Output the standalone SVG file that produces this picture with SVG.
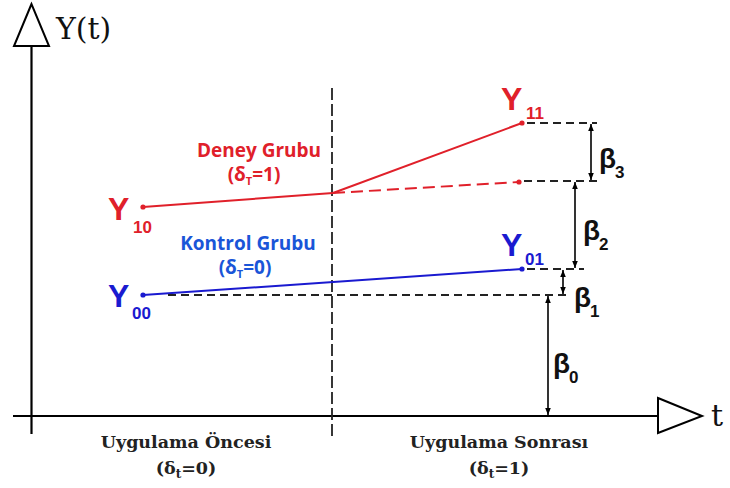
<svg xmlns="http://www.w3.org/2000/svg" width="730" height="488" viewBox="0 0 730 488">
<style>
.ax{stroke:#000;stroke-width:2.2;fill:none}
.tri{stroke:#000;stroke-width:2;fill:#fff}
.bd{stroke:#222;stroke-width:1.8;stroke-dasharray:8,5;fill:none}
.vd{stroke:#222;stroke-width:1.8;stroke-dasharray:12,4;fill:none}
.red{stroke:#e0202a;stroke-width:2;fill:none}
.redd{stroke:#e0202a;stroke-width:2;stroke-dasharray:12,6;fill:none}
.blue{stroke:#1a1ad0;stroke-width:2;fill:none}
.dim{stroke:#000;stroke-width:1.6;fill:none;marker-start:url(#ah);marker-end:url(#ah)}
.serif{font-family:"DejaVu Serif","Liberation Serif",serif}
.sb{font-family:"DejaVu Serif","Liberation Serif",serif;font-weight:bold;font-size:17.5px;fill:#222}
.ar{font-family:"Liberation Sans",Arial,sans-serif;font-weight:bold}
.lbl{font-family:"Open Sans","Liberation Sans",sans-serif;font-weight:bold;font-size:19px}
.beta{font-family:"Liberation Sans",Arial,sans-serif;font-weight:bold;font-size:28px;fill:#111}
.bsub{font-family:"Liberation Sans",Arial,sans-serif;font-weight:bold;font-size:17px;fill:#111}
</style>
<defs>
<marker id="ah" viewBox="0 0 10 10" refX="10" refY="5" markerWidth="7" markerHeight="7" orient="auto-start-reverse" markerUnits="userSpaceOnUse">
<path d="M0,1 L10,5 L0,9 Z" fill="#000"/>
</marker>
</defs>
<g id="axes">
<line class="ax" x1="31.5" y1="46" x2="31.5" y2="434"/>
<polygon class="tri" points="31.5,4 14,46 49,46"/>
<text class="serif" x="56" y="39" font-size="30" fill="#111">Y(t)</text>
<line class="ax" x1="13" y1="416" x2="658" y2="416"/>
<polygon class="tri" points="658,398 702,416 658,433"/>
<text class="serif" x="711" y="426" font-size="30" fill="#111">t</text>
</g>
<g id="connectors">
<line class="vd" x1="332" y1="88" x2="332" y2="436"/>
<line class="red" x1="143" y1="207" x2="333" y2="193"/>
<line class="red" x1="333" y1="193" x2="522" y2="123"/>
<line class="redd" x1="333" y1="193" x2="519" y2="182"/>
<line class="blue" x1="143" y1="295" x2="522" y2="269"/>
<line class="bd" x1="168" y1="295" x2="570" y2="295"/>
<line class="bd" x1="527" y1="123" x2="597" y2="123"/>
<line class="bd" x1="524" y1="181" x2="597" y2="181"/>
<line class="bd" x1="527" y1="269" x2="584" y2="269"/>
<line class="dim" x1="591" y1="124" x2="591" y2="180"/>
<line class="dim" x1="575" y1="182" x2="575" y2="268"/>
<line class="dim" x1="563" y1="270" x2="563" y2="294"/>
<line class="dim" x1="548" y1="296" x2="548" y2="415"/>
</g>
<g id="points">
<circle cx="143" cy="207" r="2.6" fill="#e0202a"/>
<circle cx="522" cy="123" r="2.6" fill="#e0202a"/>
<circle cx="519" cy="182" r="2.6" fill="#e0202a"/>
<circle cx="143" cy="295" r="2.6" fill="#1a1ad0"/>
<circle cx="522" cy="269" r="2.6" fill="#1a1ad0"/>
</g>
<g id="y10"><text class="ar" x="108" y="220" font-size="32" fill="#e0202a">Y</text><text class="ar" x="133" y="233" font-size="17" fill="#e0202a">10</text></g>
<g id="y11"><text class="ar" x="501" y="110" font-size="32" fill="#e0202a">Y</text><text class="ar" x="526" y="119" font-size="17" fill="#e0202a">11</text></g>
<g id="y00"><text class="ar" x="108" y="307" font-size="32" fill="#1a1ad0">Y</text><text class="ar" x="132" y="319" font-size="17" fill="#1a1ad0">00</text></g>
<g id="y01"><text class="ar" x="501" y="256" font-size="32" fill="#1a1ad0">Y</text><text class="ar" x="525" y="265" font-size="17" fill="#1a1ad0">01</text></g>
<g id="deney">
<text class="lbl" x="259" y="157" text-anchor="middle" fill="#e0202a">Deney Grubu</text>
<text class="lbl" x="254" y="181" text-anchor="middle" fill="#e0202a">(δ<tspan font-size="11" dy="4">T</tspan><tspan dy="-4">=1)</tspan></text>
</g>
<g id="kontrol">
<text class="lbl" x="248" y="250" text-anchor="middle" fill="#1a55d8">Kontrol Grubu</text>
<text class="lbl" x="245" y="274" text-anchor="middle" fill="#1a55d8">(δ<tspan font-size="11" dy="4">T</tspan><tspan dy="-4">=0)</tspan></text>
</g>
<g id="betas">
<text class="beta" x="599" y="168">β</text><text class="bsub" x="615" y="178">3</text>
<text class="beta" x="583" y="240">β</text><text class="bsub" x="599" y="250">2</text>
<text class="beta" x="574" y="307">β</text><text class="bsub" x="590" y="317">1</text>
<text class="beta" x="553" y="373">β</text><text class="bsub" x="569" y="383">0</text>
</g>
<g id="oncesi">
<text class="sb" x="186" y="448" text-anchor="middle">Uygulama Öncesi</text>
<text class="sb" x="186" y="474" text-anchor="middle">(δ<tspan font-size="12" dy="4">t</tspan><tspan dy="-4">=0)</tspan></text>
</g>
<g id="sonrasi">
<text class="sb" x="499" y="448" text-anchor="middle">Uygulama Sonrası</text>
<text class="sb" x="499" y="474" text-anchor="middle">(δ<tspan font-size="12" dy="4">t</tspan><tspan dy="-4">=1)</tspan></text>
</g>
</svg>
